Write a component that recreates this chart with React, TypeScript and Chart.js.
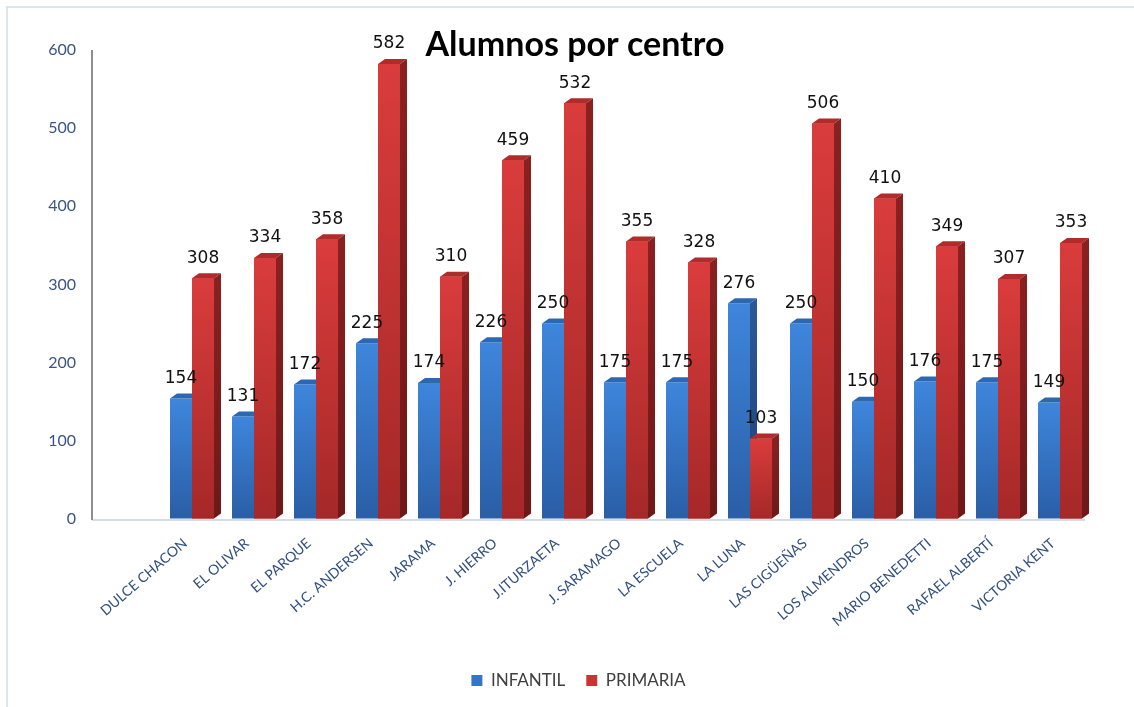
import React, { useEffect, useRef } from "react";
import { Chart, registerables } from "chart.js";

Chart.register(...registerables);

const chartTitle = "Alumnos por centro";

const categories = [
  "DULCE CHACON",
  "EL OLIVAR",
  "EL PARQUE",
  "H.C. ANDERSEN",
  "JARAMA",
  "J. HIERRO",
  "J.ITURZAETA",
  "J. SARAMAGO",
  "LA ESCUELA",
  "LA LUNA",
  "LAS CIGÜEÑAS",
  "LOS ALMENDROS",
  "MARIO BENEDETTI",
  "RAFAEL ALBERTÍ",
  "VICTORIA KENT",
];

const seriesNames = ["INFANTIL", "PRIMARIA"];

const infantil = [154, 131, 172, 225, 174, 226, 250, 175, 175, 276, 250, 150, 176, 175, 149];
const primaria = [308, 334, 358, 582, 310, 459, 532, 355, 328, 103, 506, 410, 349, 307, 353];

const yMin = 0;
const yMax = 600;
const yStep = 100;

const DEPTH_X = 7;
const DEPTH_Y = -5;

const palettes = [
  { top: "#3e86dc", bottom: "#2a5ea6", cap: "#2c67b4", sideTop: "#2a5898", sideBottom: "#1d4275", legend: "#3575c8" },
  { top: "#da3c3c", bottom: "#a52828", cap: "#b22b2b", sideTop: "#8a2020", sideBottom: "#6e1818", legend: "#cc3333" },
];

const frontFill = (pal: any) => (ctx: any) => {
  const chart = ctx.chart;
  if (!chart.chartArea || ctx.type !== "data") return pal.top;
  const y = chart.scales.y;
  const v = ctx.raw as number;
  const yTop = y.getPixelForValue(v);
  const yBot = y.getPixelForValue(0);
  const g = chart.ctx.createLinearGradient(0, yTop, 0, yBot);
  g.addColorStop(0, pal.top);
  g.addColorStop(1, pal.bottom);
  return g;
};

const drawFaces = (ctx: CanvasRenderingContext2D, bar: any, pal: any) => {
  const { x, y, base, width } = bar.getProps(["x", "y", "base", "width"], true);
  const l = x - width / 2;
  const r = x + width / 2;
  ctx.fillStyle = pal.cap;
  ctx.beginPath();
  ctx.moveTo(l, y);
  ctx.lineTo(l + DEPTH_X, y + DEPTH_Y);
  ctx.lineTo(r + DEPTH_X, y + DEPTH_Y);
  ctx.lineTo(r, y);
  ctx.closePath();
  ctx.fill();
  const g = ctx.createLinearGradient(0, y, 0, base);
  g.addColorStop(0, pal.sideTop);
  g.addColorStop(1, pal.sideBottom);
  ctx.fillStyle = g;
  ctx.beginPath();
  ctx.moveTo(r, y);
  ctx.lineTo(r + DEPTH_X, y + DEPTH_Y);
  ctx.lineTo(r + DEPTH_X, base + DEPTH_Y);
  ctx.lineTo(r, base);
  ctx.closePath();
  ctx.fill();
};

const axesPlugin = {
  id: "axes3d",
  afterLayout(chart: any) {
    // centre the legend under the plot like the original
    const lg = chart.legend;
    if (lg) {
      lg.left += 33;
      lg.right += 33;
    }
  },
  beforeDatasetsDraw(chart: any) {
    const ctx = chart.ctx;
    const yScale = chart.scales.y;
    const area = chart.chartArea;
    const axisX = area.left - 69;
    const floorY = yScale.getPixelForValue(0) + 1;
    ctx.save();
    ctx.strokeStyle = "#d6dce6";
    ctx.lineWidth = 2;
    ctx.beginPath();
    ctx.moveTo(axisX, floorY);
    ctx.lineTo(area.right - 6, floorY);
    ctx.stroke();
    ctx.strokeStyle = "#8e8e8e";
    ctx.lineWidth = 2;
    ctx.beginPath();
    ctx.moveTo(axisX, yScale.getPixelForValue(yMax));
    ctx.lineTo(axisX, floorY);
    ctx.stroke();
    ctx.restore();
  },
};

const bar3dPlugin = {
  id: "bar3d",
  afterDatasetsDraw(chart: any) {
    const ctx = chart.ctx;
    const m0 = chart.getDatasetMeta(0);
    const m1 = chart.getDatasetMeta(1);
    ctx.save();
    m0.data.forEach((bar: any) => drawFaces(ctx, bar, palettes[0]));
    m1.data.forEach((bar: any) => {
      bar.draw(ctx);
      drawFaces(ctx, bar, palettes[1]);
    });
    ctx.fillStyle = "#111";
    ctx.font = "17px 'DejaVu Sans'";
    ctx.textAlign = "center";
    ctx.textBaseline = "middle";
    [m0, m1].forEach((meta: any, di: number) => {
      const values = di === 0 ? infantil : primaria;
      meta.data.forEach((bar: any, i: number) => {
        const { x, y } = bar.getProps(["x", "y"], true);
        ctx.fillText(String(values[i]), x, y - 20);
      });
    });
    ctx.restore();
  },
  afterDraw(chart: any) {
    const ctx = chart.ctx;
    ctx.save();
    ctx.fillStyle = "#000";
    ctx.font = "bold 34px Lato";
    ctx.textAlign = "center";
    ctx.textBaseline = "middle";
    ctx.fillText(chartTitle, chart.width / 2 + 8, 45);
    ctx.restore();
  },
};

export default function App() {
  const ref = useRef<HTMLCanvasElement>(null);

  useEffect(() => {
    const canvas = ref.current!;
    const chart = new Chart(canvas, {
      type: "bar",
      data: {
        labels: categories,
        datasets: [
          {
            label: seriesNames[0],
            data: infantil,
            backgroundColor: frontFill(palettes[0]),
            borderWidth: 0,
            categoryPercentage: 0.71,
            barPercentage: 1,
          },
          {
            label: seriesNames[1],
            data: primaria,
            backgroundColor: frontFill(palettes[1]),
            borderWidth: 0,
            categoryPercentage: 0.71,
            barPercentage: 1,
          },
        ],
      },
      options: {
        animation: false,
        responsive: true,
        maintainAspectRatio: false,
        layout: { padding: { top: 50, left: 0, right: 43, bottom: 8 } },
        scales: {
          x: {
            grid: { display: false, drawTicks: false, tickLength: 0 },
            border: { display: false },
            ticks: {
              autoSkip: false,
              minRotation: 41,
              maxRotation: 41,
              padding: 16,
              labelOffset: -7,
              color: "#2f4f80",
              font: { family: "Lato", size: 14 },
            },
            afterFit: (scale: any) => {
              scale.height = 132;
            },
          },
          y: {
            min: yMin,
            max: yMax,
            grid: {
              display: true,
              drawOnChartArea: false,
              drawTicks: true,
              tickLength: 77,
              color: "rgba(0,0,0,0)",
            },
            border: { display: false },
            ticks: {
              stepSize: yStep,
              padding: 8,
              color: "#3b5582",
              font: { family: "Lato", size: 16 },
            },
            afterFit: (scale: any) => {
              scale.width = 161;
            },
          },
        },
        plugins: {
          legend: {
            position: "bottom",
            labels: {
              boxWidth: 11,
              boxHeight: 11,
              padding: 21,
              color: "#404040",
              font: { family: "Lato", size: 17 },
              generateLabels: (c: any) => {
                const items = (Chart.defaults.plugins.legend.labels as any).generateLabels(c);
                items.forEach((it: any) => {
                  const pal = palettes[it.datasetIndex];
                  it.fillStyle = pal.legend;
                  it.strokeStyle = pal.legend;
                  it.lineWidth = 0;
                });
                return items;
              },
            },
          },
          tooltip: { enabled: false },
        },
      },
      plugins: [axesPlugin, bar3dPlugin],
    } as any);
    return () => chart.destroy();
  }, []);

  return (
    <div style={{ position: "fixed", left: 0, top: 0, width: 1134, height: 707, background: "#fff" }}>
      <canvas ref={ref} />
      <div
        style={{
          position: "absolute",
          left: 6,
          top: 6,
          width: 1128,
          height: 701,
          borderTop: "2px solid #dbe5f1",
          borderLeft: "2px solid #dbe5f1",
          boxSizing: "border-box",
          pointerEvents: "none",
        }}
      />
    </div>
  );
}
